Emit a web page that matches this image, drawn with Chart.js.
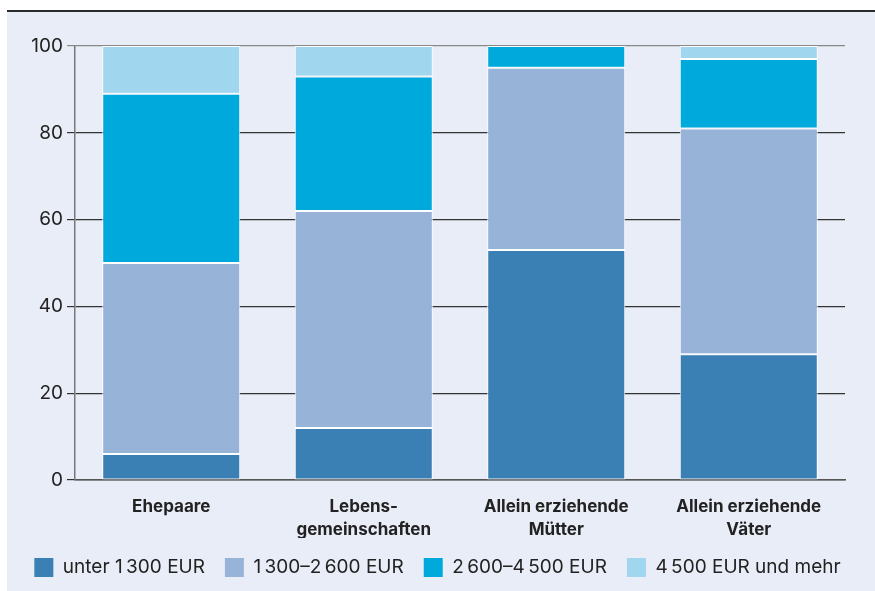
<!DOCTYPE html>
<html>
<head>
<meta charset="utf-8">
<script src="https://cdn.jsdelivr.net/npm/chart.js@4"></script>
<style>
  html, body { margin: 0; padding: 0; background: #fff; }
  #wrap { position: relative; width: 875px; height: 591px; }
  #bg { position: absolute; left: 7px; top: 12px; width: 868px; height: 579px; background: #e9edf7; }
  #topline { position: absolute; left: 7px; top: 10px; width: 868px; height: 2px; background: #2a2a2a; }
  canvas { position: absolute; left: 0; top: 0; }
</style>
</head>
<body>
<div id="wrap">
  <div id="bg"></div>
  <div id="topline"></div>
  <canvas id="chart" width="875" height="591"></canvas>
</div>
<script>
const categories = [["Ehepaare"], ["Lebens-", "gemeinschaften"], ["Allein erziehende", "Mütter"], ["Allein erziehende", "Väter"]];
const unter1300 = [6, 12, 53, 29];
const von1300bis2600 = [44, 50, 42, 52];
const von2600bis4500 = [39, 31, 5, 16];
const ab4500 = [11, 7, 0, 3];
const yTicks = [0, 20, 40, 60, 80, 100];

const font = "Inter, Roboto, 'DejaVu Sans', sans-serif";

new Chart(document.querySelector("#chart"), {
    type: "bar",
    data: {
        labels: categories,
        datasets: [
            { label: "unter 1\u202F300 EUR", data: unter1300, backgroundColor: "#3b80b4" },
            { label: "1\u202F300–2\u202F600 EUR", data: von1300bis2600, backgroundColor: "#97b4d8" },
            { label: "2\u202F600–4\u202F500 EUR", data: von2600bis4500, backgroundColor: "#00a9dc" },
            { label: "4\u202F500 EUR und mehr", data: ab4500, backgroundColor: "#a0d6ee" },
        ].map(d => ({ ...d, borderColor: "#ffffff", borderWidth: 1, borderSkipped: false, categoryPercentage: 1, barPercentage: 0.717 }))
    },
    options: {
        responsive: false,
        animation: false,
        layout: { padding: { top: 46, right: 0, bottom: 4, left: 0 } },
        plugins: {
            tooltip: { enabled: false },
            legend: {
                position: "bottom",
                labels: {
                    boxWidth: 19,
                    boxHeight: 19,
                    padding: 20,
                    color: "#222",
                    font: { family: font, size: 19 },
                    generateLabels(chart) {
                        return Chart.defaults.plugins.legend.labels.generateLabels(chart).map(l => ({ ...l, lineWidth: 0 }));
                    }
                }
            }
        },
        scales: {
            x: {
                stacked: true,
                afterFit(scale) { scale.height = 58; },
                grid: { display: false, drawTicks: false },
                border: { display: true, color: "#555", width: 1.5 },
                ticks: {
                    padding: 15,
                    color: "#222",
                    font: { family: font, size: 17, weight: "bold", lineHeight: 1.35 }
                }
            },
            y: {
                stacked: true,
                min: 0,
                max: 100,
                afterFit(scale) { scale.width = 75; },
                afterBuildTicks(scale) { scale.ticks = yTicks.map(v => ({ value: v })); },
                border: { display: true, color: "#777", width: 1.5 },
                grid: {
                    color: ctx => ctx.tick && ctx.tick.value === 100 ? "#888" : "#333",
                    lineWidth: 1.2,
                    tickLength: 8,
                    drawOnChartArea: true
                },
                ticks: {
                    padding: 4,
                    color: "#222",
                    font: { family: font, size: 19 }
                }
            },
            // empty axis on the right, only to leave the gap after the plot
            yRight: {
                position: "right",
                afterFit(scale) { scale.width = 30; },
                grid: { display: false },
                border: { display: false },
                ticks: { display: false }
            }
        }
    }
});
</script>
</body>
</html>
